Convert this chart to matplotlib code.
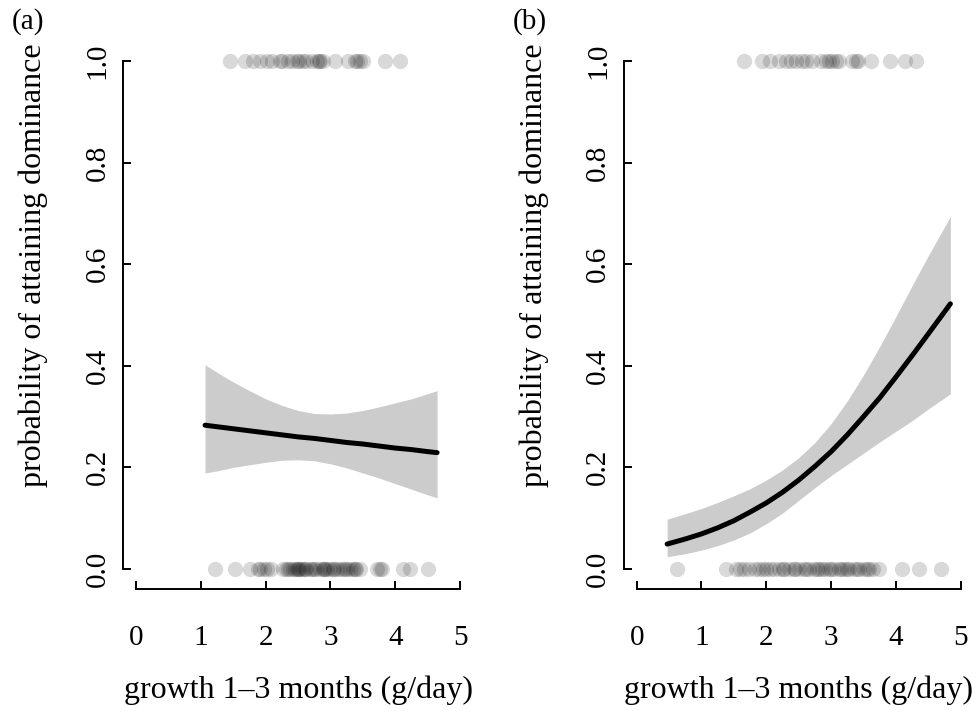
import matplotlib
matplotlib.use("Agg")
import matplotlib.pyplot as plt
import numpy as np

plt.rcParams['font.family'] = ['Liberation Serif', 'DejaVu Serif']

# growth values of individuals (g/day)
a_dominant = [1.45, 1.68, 1.81, 1.91, 2.02, 2.10, 2.22, 2.25, 2.35, 2.40, 2.48,
              2.52, 2.58, 2.62, 2.72, 2.79, 2.82, 2.84, 2.88, 3.07, 3.27, 3.38,
              3.41, 3.45, 3.50, 3.84, 4.07]
a_subordinate = [1.22, 1.53, 1.76, 1.88, 1.91, 1.98, 2.02, 2.08, 2.27, 2.32, 2.35,
                 2.38, 2.42, 2.45, 2.48, 2.50, 2.52, 2.55, 2.58, 2.60, 2.63, 2.68,
                 2.72, 2.75, 2.78, 2.84, 2.88, 2.90, 2.92, 2.95, 3.00, 3.04, 3.05,
                 3.10, 3.15, 3.20, 3.22, 3.26, 3.30, 3.35, 3.38, 3.40, 3.46, 3.72,
                 3.77, 3.80, 4.12, 4.23, 4.51]
b_dominant = [1.66, 1.94, 2.05, 2.20, 2.31, 2.38, 2.46, 2.55, 2.62, 2.71, 2.85,
              2.92, 2.97, 3.02, 3.08, 3.12, 3.32, 3.38, 3.42, 3.62, 3.91, 4.14, 4.31]
b_subordinate = [0.62, 1.38, 1.54, 1.60, 1.65, 1.74, 1.82, 1.89, 1.95, 2.00, 2.05,
                 2.12, 2.20, 2.25, 2.28, 2.35, 2.42, 2.45, 2.51, 2.58, 2.62, 2.66,
                 2.74, 2.78, 2.82, 2.86, 2.90, 2.97, 3.00, 3.05, 3.12, 3.15, 3.20,
                 3.25, 3.28, 3.35, 3.40, 3.43, 3.50, 3.55, 3.58, 3.65, 3.74, 4.09,
                 4.35, 4.69]

# fitted probability and confidence band
a_x = [1.065, 1.25, 1.5, 1.75, 2.0, 2.25, 2.5, 2.75, 3.0, 3.25, 3.5, 3.75,
       4.0, 4.25, 4.5, 4.645]
a_fit = [0.283, 0.280, 0.276, 0.272, 0.268, 0.264, 0.260, 0.257, 0.253, 0.249,
         0.246, 0.242, 0.238, 0.235, 0.231, 0.229]
a_upper = [0.402, 0.387, 0.368, 0.351, 0.335, 0.322, 0.312, 0.306, 0.305, 0.307,
           0.312, 0.319, 0.327, 0.335, 0.345, 0.351]
a_lower = [0.189, 0.193, 0.200, 0.205, 0.210, 0.214, 0.215, 0.213, 0.207, 0.199,
           0.189, 0.179, 0.168, 0.157, 0.146, 0.140]

b_x = [0.47, 0.75, 1.0, 1.25, 1.5, 1.75, 2.0, 2.25, 2.5, 2.75, 3.0, 3.25, 3.5,
       3.75, 4.0, 4.25, 4.5, 4.84]
b_fit = [0.049, 0.059, 0.069, 0.081, 0.095, 0.112, 0.130, 0.151, 0.175, 0.202,
         0.231, 0.264, 0.300, 0.337, 0.378, 0.420, 0.463, 0.522]
b_upper = [0.098, 0.109, 0.119, 0.131, 0.144, 0.158, 0.175, 0.195, 0.219, 0.249,
           0.286, 0.331, 0.382, 0.438, 0.497, 0.558, 0.617, 0.694]
b_lower = [0.024, 0.030, 0.037, 0.046, 0.057, 0.071, 0.089, 0.110, 0.135, 0.160,
           0.184, 0.206, 0.228, 0.250, 0.271, 0.292, 0.315, 0.345]

xticks = [0, 1, 2, 3, 4, 5]
yticks = [0.0, 0.2, 0.4, 0.6, 0.8, 1.0]

fig = plt.figure(figsize=(9.75, 7.11), dpi=100)
ax_a = fig.add_axes([0.1262, 0.1712, 0.3590, 0.7716])
ax_b = fig.add_axes([0.6397, 0.1712, 0.3590, 0.7716])

panels = [
    (ax_a, a_dominant, a_subordinate, a_x, a_fit, a_upper, a_lower, "(a)", 0.012),
    (ax_b, b_dominant, b_subordinate, b_x, b_fit, b_upper, b_lower, "(b)", 0.526),
]

for ax, dom, sub, cx, fit, up, lo, tag, tx in panels:
    ax.fill_between(cx, lo, up, color="#cccccc", lw=0)
    ax.plot(cx, fit, color="black", lw=3.6, solid_capstyle="round")
    ax.plot(dom, np.ones(len(dom)), "o", ms=11, mfc=(0, 0, 0, 0.15),
            mec="none", clip_on=False)
    ax.plot(sub, np.zeros(len(sub)), "o", ms=11, mfc=(0, 0, 0, 0.15),
            mec="none", clip_on=False)

    ax.set_xlim(-0.2, 5.2)
    ax.set_ylim(-0.04, 1.04)
    for s in ["top", "right"]:
        ax.spines[s].set_visible(False)
    ax.spines["left"].set_bounds(0, 1)
    ax.spines["bottom"].set_bounds(0, 5)
    for s in ["left", "bottom"]:
        ax.spines[s].set_linewidth(1.4)

    ax.set_xticks(xticks)
    ax.set_xticklabels([str(t) for t in xticks])
    ax.set_yticks(yticks)
    ax.set_yticklabels(["%.1f" % t for t in yticks], rotation=90, va="center")
    ax.tick_params(direction="in", length=6, width=1.4, labelsize=21)
    ax.tick_params(axis="x", pad=26)
    ax.tick_params(axis="y", pad=9)

    ax.set_xlabel("growth 1\u20133 months (g/day)", fontsize=23)
    ax.xaxis.set_label_coords(0.5, -0.158)
    ax.set_ylabel("probability of attaining dominance", fontsize=23)
    ax.yaxis.set_label_coords(-0.214, 0.591)

    fig.text(tx, 0.989, tag, fontsize=21, va="top")

fig.savefig("out.png", dpi=100)
